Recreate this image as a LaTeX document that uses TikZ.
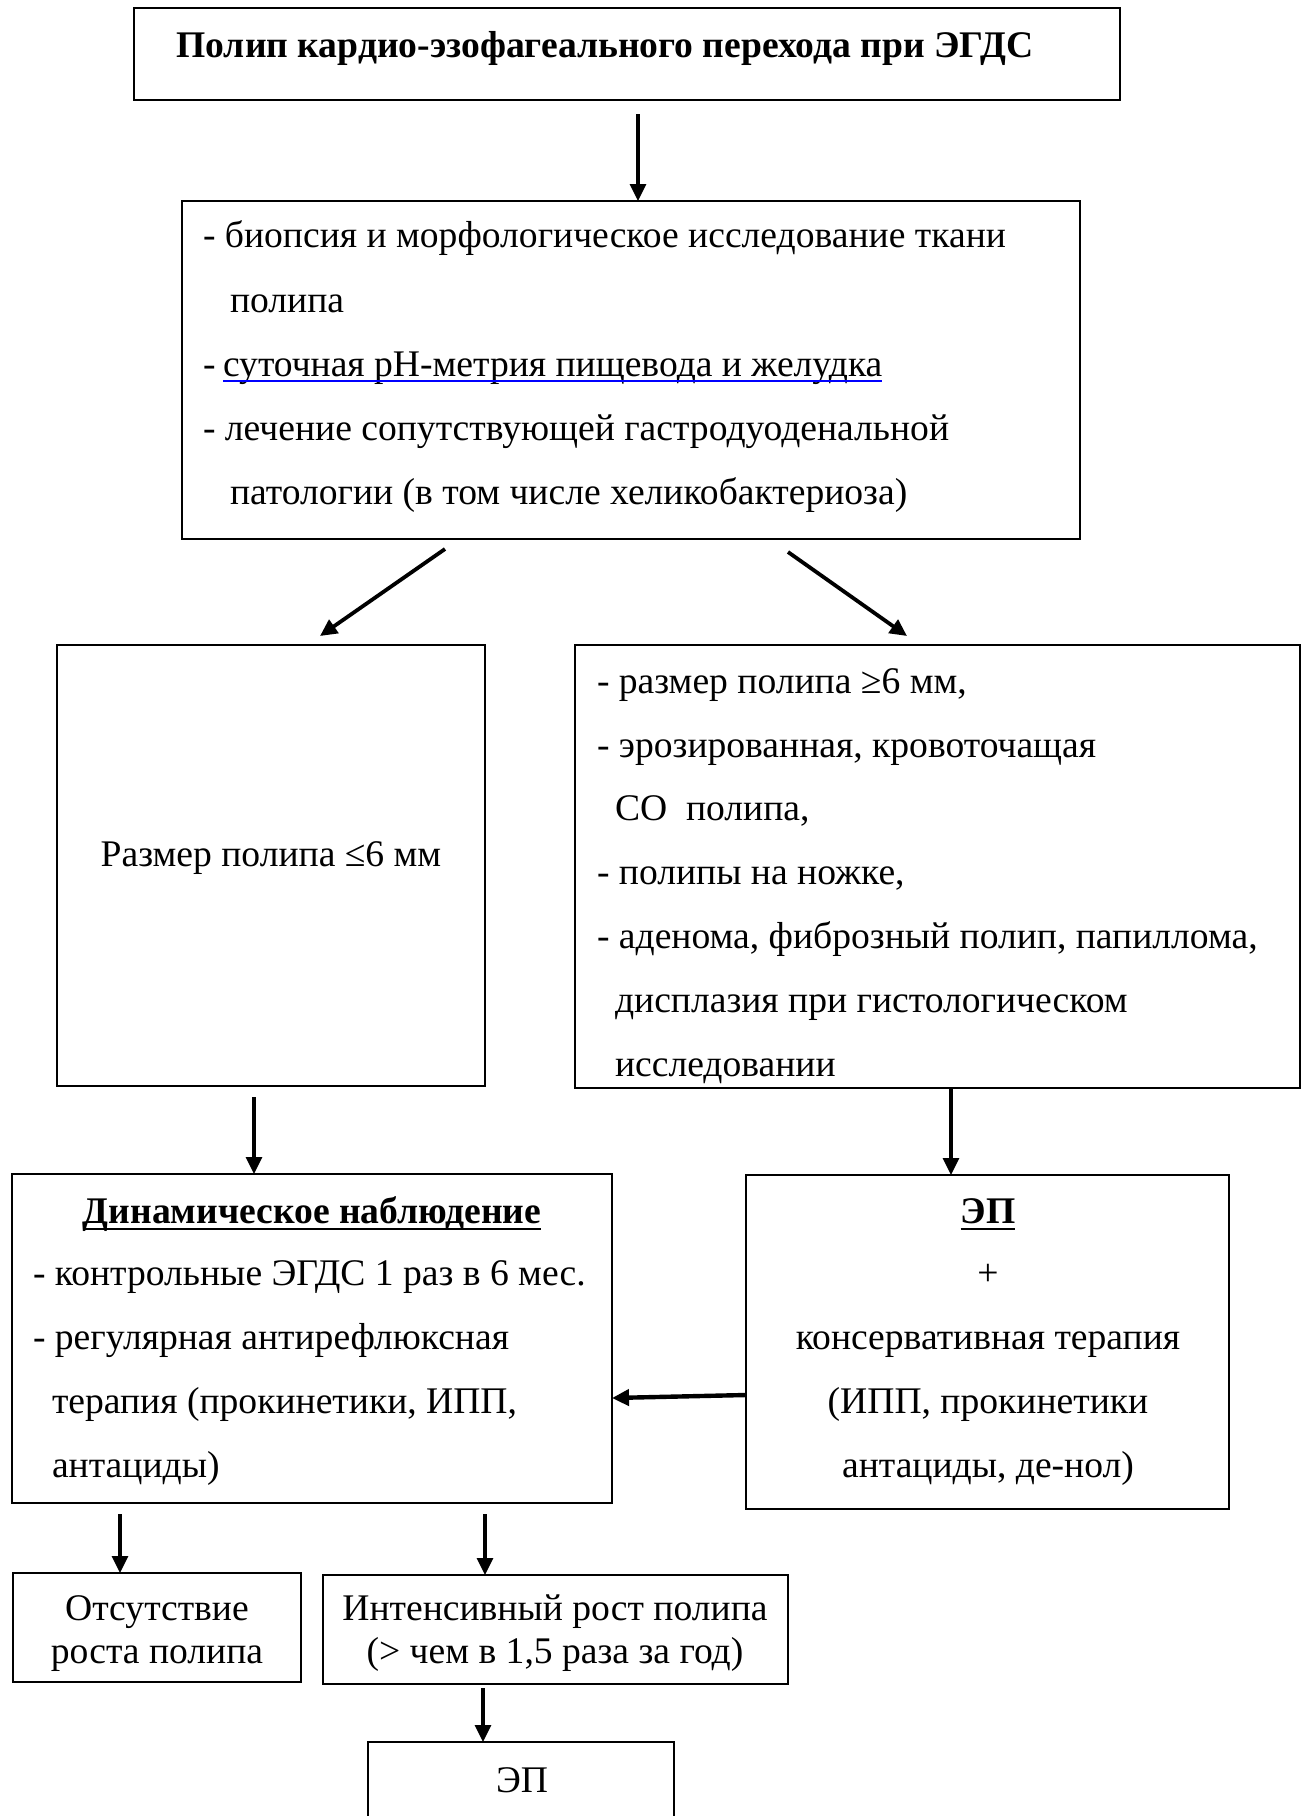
\documentclass[tikz,border=0pt]{standalone}
\usepackage{fontspec}
\setmainfont{Liberation Serif}
\usetikzlibrary{arrows.meta,calc,fit}
\tikzset{
  box/.style={draw, line width=1pt, inner sep=0pt, outer sep=0pt},
  txt/.style={anchor=base west, inner sep=0pt, outer sep=0pt, font=\fontsize{18.8}{22}\selectfont},
  ctxt/.style={anchor=base, inner sep=0pt, outer sep=0pt, font=\fontsize{18.8}{22}\selectfont},
  btxt/.style={anchor=base, inner sep=0pt, outer sep=0pt, font=\fontsize{18.8}{22}\selectfont\bfseries},
  arr/.style={-{Triangle[length=8.5pt,width=8pt]}, line width=1.6pt},
  uline/.style={line width=1.4pt},
}
\begin{document}
\begin{tikzpicture}[x=0.5pt,y=-0.5pt]
\clip (0,0) rectangle (1306,1816);
\fill[white] (0,0) rectangle (1306,1816);

% boxes
\node[box, fit={(134,8) (1120,100)}] (b1) {};
\node[box, fit={(182,201) (1080,539)}] (b2) {};
\node[box, fit={(57,645) (485,1086)}] (b3) {};
\node[box, fit={(575,645) (1300,1088)}] (b4) {};
\node[box, fit={(12,1174) (612,1503)}] (dyn) {};
\node[box, fit={(746,1175) (1229,1509)}] (ep) {};
\node[box, fit={(13,1573) (301,1682)}] (ob) {};
\node[box, fit={(323,1575) (788,1684)}] (ib) {};
\node[box, fit={(368,1742) (674,1840)}] (ep2) {};

% title
\node[anchor=base west, inner sep=0pt, font=\fontsize{18.8}{22}\selectfont\bfseries] (t0) at (176,57) {Полип кардио-эзофагеального перехода при ЭГДС};

% box 2
\node[txt] (t21) at (203,247) {- биопсия и морфологическое исследование ткани};
\node[txt] (t22) at (230,312) {полипа};
\node[txt] (t23) at (203,376) {-};
\node[txt] (t23u) at (223,376) {суточная рН-метрия пищевода и желудка};
\draw[line width=1.3pt, color={rgb,255:red,0;green,0;blue,255}] ($(t23u.base west)+(0,5)$) -- ($(t23u.base east)+(0,5)$);
\node[txt] (t24) at (203,440) {- лечение сопутствующей гастродуоденальной};
\node[txt] (t25) at (230,504) {патологии (в том числе хеликобактериоза)};

% box 3
\node[ctxt] (t3) at (271,866) {Размер полипа ≤6 мм};

% box 4
\node[txt] (t41) at (597,693) {- размер полипа ≥6 мм,};
\node[txt] (t42) at (597,757) {- эрозированная, кровоточащая};
\node[txt] (t43) at (615,820) {СО\ \ полипа,};
\node[txt] (t44) at (597,884) {- полипы на ножке,};
\node[txt] (t45) at (597,948) {- аденома, фиброзный полип, папиллома,};
\node[txt] (t46) at (615,1012) {дисплазия при гистологическом};
\node[txt] (t47) at (615,1076) {исследовании};

% dynamic observation
\node[btxt] (td0) at (312,1223) {Динамическое наблюдение};
\draw[uline] ($(td0.base west)+(0,6)$) -- ($(td0.base east)+(0,6)$);
\node[txt] (td1) at (33,1285) {- контрольные ЭГДС 1 раз в 6 мес.};
\node[txt] (td2) at (33,1349) {- регулярная антирефлюксная};
\node[txt] (td3) at (52,1413) {терапия (прокинетики, ИПП,};
\node[txt] (td4) at (52,1477) {антациды)};

% EP box
\node[btxt] (te0) at (988,1223) {ЭП};
\draw[uline] ($(te0.base west)+(0,6)$) -- ($(te0.base east)+(0,6)$);
\node[ctxt] (te1) at (988,1285) {+};
\node[ctxt] (te2) at (988,1349) {консервативная терапия};
\node[ctxt] (te3) at (988,1413) {(ИПП, прокинетики};
\node[ctxt] (te4) at (988,1477) {антациды, де-нол)};

% bottom boxes
\node[ctxt] (to1) at (157,1620) {Отсутствие};
\node[ctxt] (to2) at (157,1663) {роста полипа};
\node[ctxt] (ti1) at (555,1620) {Интенсивный рост полипа};
\node[ctxt] (ti2) at (555,1663) {(> чем в 1,5 раза за год)};
\node[ctxt] (tep2) at (522,1792) {ЭП};

% connectors
\coordinate (a1s) at (638,114);
\draw[arr] (a1s) -- (a1s |- b2.north);
\coordinate (a2s) at (445,549);
\coordinate (a2e) at (320,636);
\draw[arr, line width=1.9pt] (a2s) -- (a2e);
\coordinate (a3s) at (788,552);
\coordinate (a3e) at (907,636);
\draw[arr, line width=1.9pt] (a3s) -- (a3e);
\coordinate (a4s) at (254,1097);
\draw[arr] (a4s) -- (a4s |- dyn.north);
\coordinate (a5s) at (951,1088);
\draw[arr] (a5s) -- (a5s |- ep.north);
\coordinate (a6s) at (746,1395);
\coordinate (a6e) at (612,1398);
\draw[arr, line width=2.2pt] (a6s) -- (a6e);
\coordinate (a7s) at (120,1514);
\draw[arr] (a7s) -- (a7s |- ob.north);
\coordinate (a8s) at (485,1514);
\draw[arr] (a8s) -- (a8s |- ib.north);
\coordinate (a9s) at (483,1688);
\draw[arr] (a9s) -- (a9s |- ep2.north);
\end{tikzpicture}
\end{document}
